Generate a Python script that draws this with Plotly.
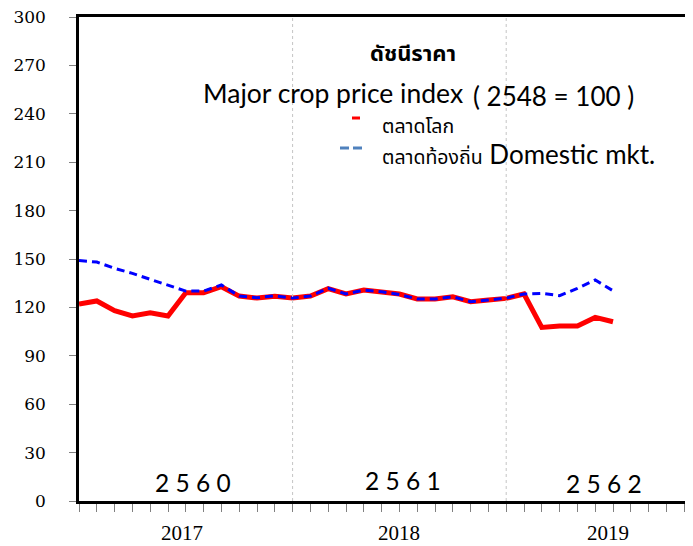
import plotly.graph_objects as go

# monthly index, Jan 2017 - Jul 2019
months = [f"{y}-{m:02d}" for y in (2017, 2018, 2019) for m in range(1, 13)][:31]

world = [122.1, 124.0, 118.0, 114.7, 116.7, 114.7, 129.1, 129.1, 132.8, 127.0,
         125.8, 126.9, 125.8, 127.0, 131.6, 128.3, 130.8, 129.7, 128.3, 125.2,
         125.2, 126.6, 123.5, 124.6, 125.6, 128.3, 107.6, 108.5, 108.5, 113.8,
         111.1]
domestic = [149.0, 148.1, 144.2, 141.1, 137.4, 133.6, 130.1, 130.1, 133.9, 127.0,
            126.0, 127.2, 125.8, 127.0, 131.9, 128.3, 130.8, 129.7, 128.0, 125.2,
            125.2, 126.6, 123.5, 124.6, 125.8, 128.3, 128.7, 127.3, 131.8, 137.0,
            130.3]

year_labels = ["2017", "2018", "2019"]
be_labels = ["2 5 6 0", "2 5 6 1", "2 5 6 2"]

x = list(range(len(months)))

# page body has an 8px margin, so the figure starts at (8, 8)
W, H, L, T, B = 693, 546, 79, 17, 45
OFF = 8

def px(xp, yp):
    return (xp - L) / (W - L), (H - B - yp) / (H - T - B)

fig = go.Figure()
fig.add_scatter(x=x, y=world, mode="lines", name="ตลาดโลก",
                line=dict(color="#ff0000", width=5))
fig.add_scatter(x=x, y=domestic, mode="lines", name="ตลาดท้องถิ่น",
                line=dict(color="#0000ff", width=3, dash="8px,5px"))

# year boundaries
for b in (12, 24):
    fig.add_vline(x=b, line=dict(color="#c4c4c4", width=1, dash="dot"))

# years below the axis and Thai years inside the plot
for lab, xc in zip(year_labels, (5.8, 18.0, 29.7)):
    fig.add_annotation(x=xc, y=px(0, 533)[1], yref="paper", text=lab, showarrow=False,
                       xanchor="center", yanchor="middle",
                       font=dict(family="Liberation Serif", size=21, color="#000"))
for lab, xc, yy in zip(be_labels, (6.4, 18.2, 29.5), (482, 480, 483)):
    fig.add_annotation(x=xc, y=px(0, yy)[1], yref="paper", text=lab, showarrow=False,
                       xanchor="center", yanchor="middle",
                       font=dict(family="Lato", size=24.5, color="#000"))

thai = "Noto Sans Thai, Tahoma, sans-serif"
texts = [
    (413, 55, "center", "<b>ดัชนีราคา</b>", thai, 22),
    (333, 93, "center", "Major crop price index", "Lato", 26.5),
    (553, 96, "center", "( 2548 = 100 )", "Lato", 26),
    (380, 127, "left", "ตลาดโลก", thai, 19.5),
    (380, 155, "left", "<span style='font-size:19.5px;font-family:Noto Sans Thai'>ตลาดท้องถิ่น</span> Domestic mkt.",
     "Lato", 26),
]
for xp, yp, anc, txt, fam, sz in texts:
    xx, yy = px(xp, yp)
    fig.add_annotation(x=xx, y=yy, xref="paper", yref="paper", text=txt,
                       xanchor=anc, yanchor="middle", showarrow=False,
                       font=dict(family=fam, size=sz, color="#000"))

# legend keys
for x0, x1, yk, col in [(352, 360, 118, "#ff0000"), (340, 349, 148, "#4f81bd"),
                        (353, 362, 148, "#4f81bd")]:
    a0, b0 = px(x0, yk)
    a1, _ = px(x1, yk)
    fig.add_shape(type="line", xref="paper", yref="paper", x0=a0, x1=a1, y0=b0, y1=b0,
                  line=dict(color=col, width=3))

fig.update_xaxes(range=[0, (W - L) / 17.8], tick0=0, dtick=1, ticks="outside", ticklen=8,
                 tickcolor="#808080", tickwidth=1, showticklabels=False,
                 showgrid=False, zeroline=False, showline=True, linecolor="#000",
                 linewidth=2.5, mirror=True)
fig.update_yaxes(range=[0, 300], dtick=30, ticks="outside", ticklen=7,
                 tickcolor="#808080", tickwidth=1, showgrid=False, zeroline=False,
                 showline=True, linecolor="#000", linewidth=2.5,
                 ticklabelstandoff=20, automargin=False, ticklabeloverflow="allow",
                 tickfont=dict(family="DejaVu Serif", size=17, color="#000"))

fig.update_layout(width=W - OFF, height=H - OFF,
                  margin=dict(l=L - OFF, r=0, t=T - OFF, b=B, autoexpand=False),
                  showlegend=False, plot_bgcolor="white", paper_bgcolor="white")

fig.write_html("out.html")
